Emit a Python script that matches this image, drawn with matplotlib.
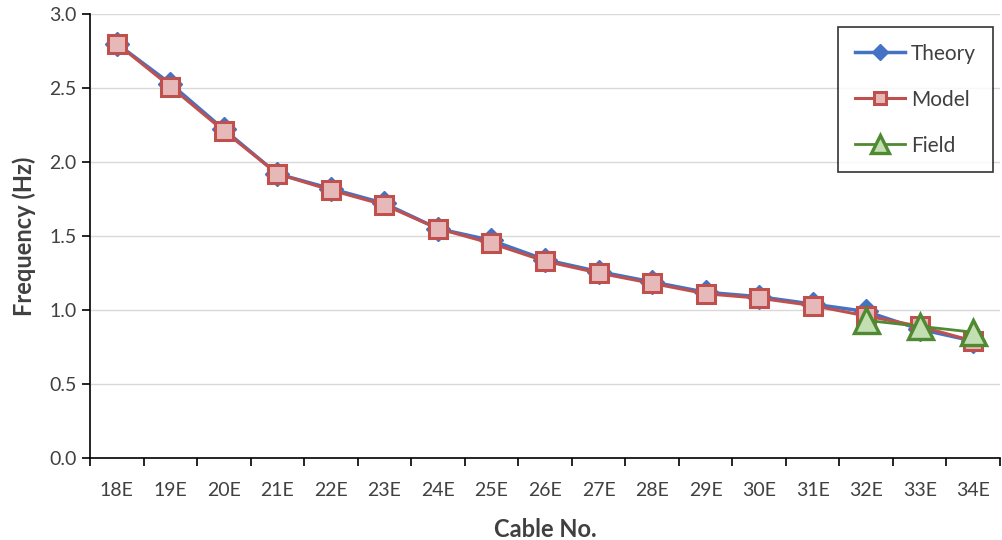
import matplotlib
matplotlib.use("Agg")
import matplotlib.pyplot as plt
import numpy as np

cables = ["18E", "19E", "20E", "21E", "22E", "23E", "24E", "25E", "26E",
          "27E", "28E", "29E", "30E", "31E", "32E", "33E", "34E"]
theory = [2.80, 2.53, 2.22, 1.92, 1.82, 1.72, 1.55, 1.47, 1.34, 1.26,
          1.19, 1.12, 1.09, 1.04, 0.99, 0.87, 0.79]
model = [2.80, 2.51, 2.21, 1.92, 1.81, 1.71, 1.55, 1.45, 1.33, 1.25,
         1.18, 1.11, 1.08, 1.03, 0.96, 0.89, 0.79]
field_cables = ["32E", "33E", "34E"]
field = [0.93, 0.89, 0.85]

plt.rcParams['font.family'] = ['Lato', 'DejaVu Sans']
txt = '#404040'

fig = plt.figure(figsize=(10.02, 5.40), dpi=100)
ax = fig.add_axes([90/1002, 1-458/540, (1000-90)/1002, (458-14)/540])

x = np.arange(len(cables))
xf = [cables.index(c) for c in field_cables]

ax.plot(x, theory, color='#4472C4', lw=2.5, marker='D', ms=12,
        mfc='#4472C4', mec='#4472C4', label='Theory', zorder=3)
ax.plot(x, model, color='#C0504D', lw=2.2, marker='s', ms=13,
        mfc='#E6B9B8', mec='#C0504D', mew=2.2, label='Model', zorder=4)
ax.plot(xf, field, color='#4F8A32', lw=2, marker='^', ms=18,
        mfc='#C3DEB0', mec='#4F8A32', mew=2.4, label='Field', zorder=5)

ax.set_xlim(-0.5, len(cables)-0.5)
ax.set_ylim(0, 3.0)
ax.set_yticks(np.arange(0, 3.01, 0.5))
ax.set_yticklabels([f"{v:.1f}" for v in np.arange(0, 3.01, 0.5)])
ax.set_xticks(x)
ax.set_xticklabels(cables)
ax.set_xticks(np.arange(-0.5, len(cables), 1.0), minor=True)
ax.tick_params(axis='x', which='major', length=0, pad=17, labelsize=14, labelcolor=txt)
ax.tick_params(axis='x', which='minor', length=6, width=1.2, direction='out', color='black')
ax.tick_params(axis='y', which='major', length=6, width=1.2, direction='out', labelsize=14, labelcolor=txt)

ax.grid(axis='y', color='#D9D9D9', lw=1)
ax.set_axisbelow(True)
for s in ['top', 'right']:
    ax.spines[s].set_visible(False)
for s in ['left', 'bottom']:
    ax.spines[s].set_color('black')
    ax.spines[s].set_linewidth(1.2)

ax.set_xlabel('Cable No.', fontsize=17, fontweight='bold', color=txt, labelpad=14)
ax.set_ylabel('Frequency (Hz)', fontsize=17, fontweight='bold', color=txt, labelpad=10)

leg = ax.legend(loc='upper right', bbox_to_anchor=(0.992, 0.971), borderaxespad=0,
                fontsize=15, frameon=True, fancybox=False, edgecolor='black',
                labelspacing=1.25, handlelength=2.4, borderpad=0.8, markerscale=0.7,
                handletextpad=0.3)
leg.get_frame().set_linewidth(1.2)
for t in leg.get_texts():
    t.set_color(txt)

fig.savefig('out.png', dpi=100)
